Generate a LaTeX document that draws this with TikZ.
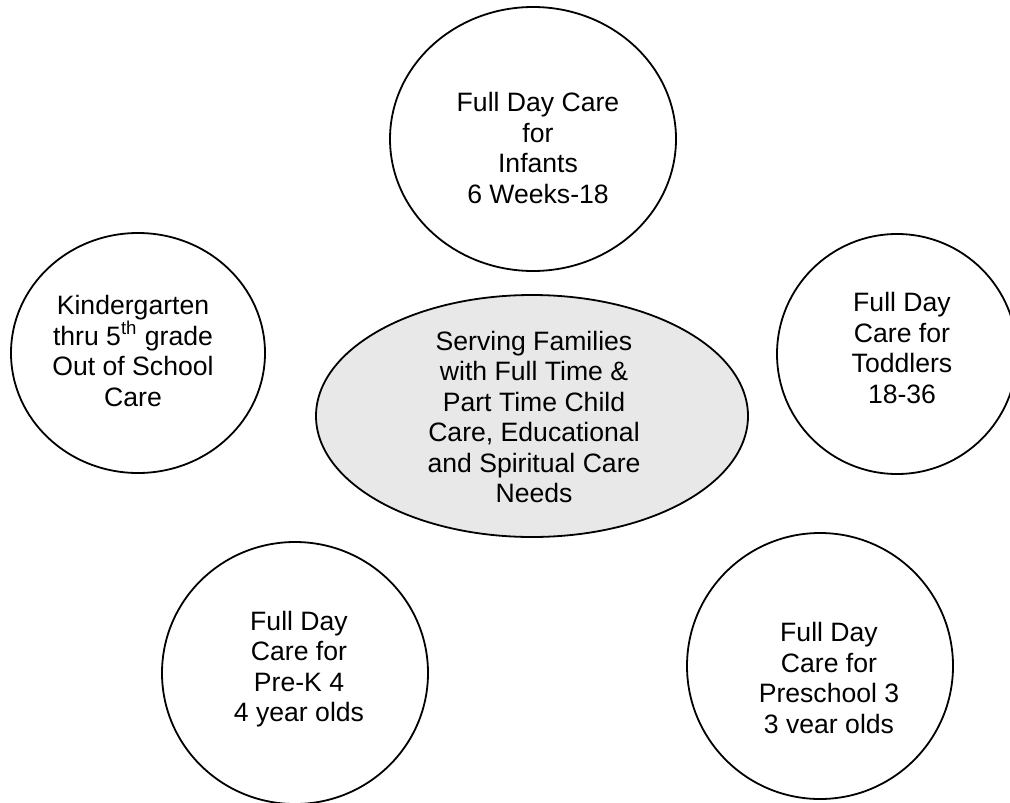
\documentclass[tikz,border=0pt]{standalone}
\usepackage{fontspec}
\setmainfont{Liberation Sans}
\usetikzlibrary{shapes.geometric}
\definecolor{hubfill}{RGB}{232,232,232}
\tikzset{
  bubble/.style={draw, ellipse, line width=0.9pt, inner sep=0pt},
  hub/.style={bubble, fill=hubfill},
  lbl/.style={align=center, inner sep=0pt, font=\fontsize{13.3}{15.25}\selectfont}
}
\begin{document}
\begin{tikzpicture}[x=0.5pt, y=-0.5pt]
    \useasboundingbox (0,0) rectangle (1010,802);
    % the hub in the middle
    \node[hub, minimum width=216pt, minimum height=121pt] (hub) at (532,416) {};
    \node[lbl] (hubtext) at (534,417) {Serving Families\\with Full Time \&\\Part Time Child\\Care, Educational\\and Spiritual Care\\Needs};
    % care groups round it
    \node[bubble, minimum width=143pt, minimum height=132pt] (infants) at (533,139) {};
    \node[lbl] (infantstext) at (538,148) {Full Day Care\\for\\Infants\\6 Weeks-18};
    \node[bubble, minimum width=127pt, minimum height=120pt] (kinder) at (138,353) {};
    \node[lbl] (kindertext) at (133,351) {Kindergarten\\thru 5\textsuperscript{th} grade\\Out of School\\Care};
    \node[bubble, minimum width=120pt, minimum height=120pt] (toddlers) at (897,354) {};
    \node[lbl] (toddlerstext) at (902,348) {Full Day\\Care for\\Toddlers\\18-36};
    \node[bubble, minimum width=133pt, minimum height=131pt] (prek) at (295,673) {};
    \node[lbl] (prektext) at (299,669) {Full Day\\Care for\\Pre-K 4\\4 year olds};
    \node[bubble, minimum width=133pt, minimum height=133pt] (preschool) at (820,666) {};
    \node[lbl] (preschooltext) at (829,678) {Full Day\\Care for\\Preschool 3\\3 vear olds};
\end{tikzpicture}
\end{document}
